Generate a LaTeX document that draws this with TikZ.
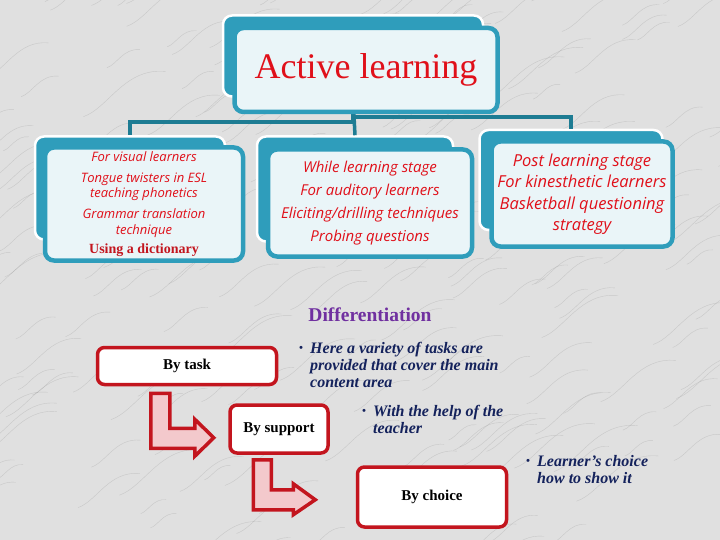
\documentclass[tikz,border=0pt]{standalone}
\usepackage{fontspec}
\setmainfont{Liberation Serif}
\newfontfamily\boxfont{Open Sans}
\usepackage{tikz}
\usetikzlibrary{positioning,calc}
\definecolor{smteal}{HTML}{2F9DBB}
\definecolor{linkteal}{HTML}{1E7C93}
\definecolor{paleblue}{HTML}{EAF5F8}
\definecolor{slidered}{HTML}{E0101A}
\definecolor{boxred}{HTML}{C3151E}
\definecolor{arrowpink}{HTML}{F3C9CC}
\definecolor{navy}{HTML}{14225C}
\definecolor{diffpurple}{HTML}{7030A0}
\definecolor{marble}{HTML}{E0E0E0}
\newcommand{\bul}{\makebox[11pt][l]{\raisebox{2pt}{\fontsize{11}{11}\selectfont\textbullet}}}

\begin{document}
\begin{tikzpicture}[x=1pt,y=-1pt,
   backbox/.style={draw=white,line width=2.5pt,fill=smteal,rounded corners=9pt},
   frontbox/.style={draw=smteal,line width=4.5pt,fill=paleblue,rounded corners=9pt,
     align=center,text=slidered,inner sep=0pt},
   link/.style={draw=linkteal,line width=3.5pt},
   choicebox/.style={draw=boxred,line width=3.5pt,fill=white,rounded corners=7pt,
     font=\fontsize{15}{18}\selectfont\bfseries},
   bentarrow/.style={draw=boxred,line width=3.5pt,fill=arrowpink,line join=miter},
   note/.style={anchor=north west,inner sep=0pt,align=left,text=navy,
     font=\fontsize{16}{17}\selectfont\bfseries\itshape},
   vein/.style={draw=gray,line width=0.4pt,opacity=0.25}]
  \useasboundingbox (0,0) rectangle (720,540);
  % marble backdrop
  \fill[marble] (0,0) rectangle (720,540);
  \pgfmathsetseed{11}
  \foreach \i in {1,...,220}{
    \pgfmathsetmacro\vx{rnd*760-30}
    \pgfmathsetmacro\vy{rnd*580}
    \pgfmathsetmacro\vl{25+rnd*60}
    \draw[vein] (\vx,\vy) .. controls (\vx+\vl*0.3,\vy-\vl*0.1) and (\vx+\vl*0.5,\vy-\vl*0.6) .. (\vx+\vl,\vy-\vl*0.55);
  }

  % hierarchy
  \node[backbox,minimum width=260,minimum height=81] (tb) at (353,56) {};
  \node[backbox,minimum width=190,minimum height=103] (lb) at (130,188) {};
  \node[backbox,minimum width=196,minimum height=105] (mb) at (355,189) {};
  \node[backbox,minimum width=183,minimum height=100] (rb) at (571,180) {};
  \coordinate (lvl) at (0,122);
  \coordinate (rvl) at (0,117);
  \draw[link] (tb.south) -- (mb.north);
  \draw[link] (tb.south) -- (tb.south |- lvl) -| (lb.north);
  \draw[link] (tb.south) -- (tb.south |- rvl) -| (rb.north);

  \node[frontbox,minimum width=263,minimum height=84,font=\fontsize{36}{40}\selectfont] (tf) at (366,70) {Active learning};
  \node[frontbox,minimum width=198,minimum height=113,font=\boxfont\itshape\fontsize{13}{15.5}\selectfont] (lf) at (144,204)
    {For visual learners\\[5.5pt] Tongue twisters in ESL\\teaching phonetics\\[5.5pt] Grammar translation\\technique\\[4pt]
     {\rmfamily\upshape\bfseries\fontsize{14}{15}\selectfont\color{boxred}Using a dictionary}};
  \node[frontbox,minimum width=204,minimum height=107,font=\boxfont\itshape\fontsize{15}{23}\selectfont] (mf) at (370,203)
    {While learning stage\\For auditory learners\\Eliciting/drilling techniques\\Probing questions};
  \node[frontbox,minimum width=181,minimum height=105,font=\boxfont\itshape\fontsize{16.5}{21.5}\selectfont] (rf) at (582,194)
    {Post learning stage\\For kinesthetic learners\\Basketball questioning\\strategy};

  % differentiation
  \node[font=\fontsize{19.5}{21}\selectfont\bfseries,text=diffpurple] (diff) at (370,315) {Differentiation};
  \node[choicebox,minimum width=179,minimum height=37] (task) at (187,366) {By task};
  \node[choicebox,minimum width=98,minimum height=48] (support) at (279,429) {By support};
  \node[choicebox,minimum width=149,minimum height=60] (choice) at (432,497) {By choice};

  \coordinate (a1) at ($(task.south west)+(55,7)$);
  \draw[bentarrow] (a1) -- ++(19,0) -- ++(0,35) -- ++(25,0) -- ++(0,-9) -- ++(19,18.5)
    -- ++(-19,18.5) -- ++(0,-8) -- ++(-44,0) -- cycle;
  \coordinate (a2) at ($(support.south west)+(25,5)$);
  \draw[bentarrow] (a2) -- ++(18,0) -- ++(0,30) -- ++(22,0) -- ++(0,-6) -- ++(22,16)
    -- ++(-22,15) -- ++(0,-5) -- ++(-40,0) -- cycle;

  \node[note] (n1) at (299,342) {\bul Here a variety of tasks are\\\hspace*{11pt}provided that cover the main\\\hspace*{11pt}content area};
  \node[note] (n2) at (362,405) {\bul With the help of the\\\hspace*{11pt}teacher};
  \node[note] (n3) at (526,455) {\bul Learner’s choice\\\hspace*{11pt}how to show it};
\end{tikzpicture}
\end{document}
